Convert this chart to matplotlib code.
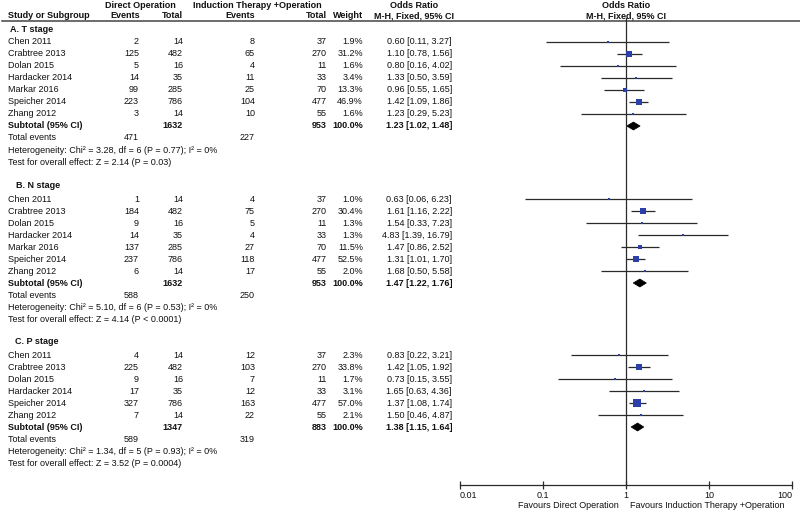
import numpy as np
import matplotlib
matplotlib.use("Agg")
import matplotlib.pyplot as plt
from matplotlib.patches import Polygon

# ---------------- data ----------------
studies_A = ["Chen 2011", "Crabtree 2013", "Dolan 2015", "Hardacker 2014", "Markar 2016", "Speicher 2014", "Zhang 2012"]
dir_ev_A = [2, 125, 5, 14, 99, 223, 3]
dir_tot_A = [14, 482, 16, 35, 285, 786, 14]
ind_ev_A = [8, 65, 4, 11, 25, 104, 10]
ind_tot_A = [37, 270, 11, 33, 70, 477, 55]
weight_A = [1.9, 31.2, 1.6, 3.4, 13.3, 46.9, 1.6]
or_A = [0.60, 1.10, 0.80, 1.33, 0.96, 1.42, 1.23]
lo_A = [0.11, 0.78, 0.16, 0.50, 0.55, 1.09, 0.29]
hi_A = [3.27, 1.56, 4.02, 3.59, 1.65, 1.86, 5.23]
sub_A = (1632, 953, 1.23, 1.02, 1.48)
tot_ev_A = (471, 227)
het_A = "Heterogeneity: Chi² = 3.28, df = 6 (P = 0.77); I² = 0%"
test_A = "Test for overall effect: Z = 2.14 (P = 0.03)"

studies_B = ["Chen 2011", "Crabtree 2013", "Dolan 2015", "Hardacker 2014", "Markar 2016", "Speicher 2014", "Zhang 2012"]
dir_ev_B = [1, 184, 9, 14, 137, 237, 6]
dir_tot_B = [14, 482, 16, 35, 285, 786, 14]
ind_ev_B = [4, 75, 5, 4, 27, 118, 17]
ind_tot_B = [37, 270, 11, 33, 70, 477, 55]
weight_B = [1.0, 30.4, 1.3, 1.3, 11.5, 52.5, 2.0]
or_B = [0.63, 1.61, 1.54, 4.83, 1.47, 1.31, 1.68]
lo_B = [0.06, 1.16, 0.33, 1.39, 0.86, 1.01, 0.50]
hi_B = [6.23, 2.22, 7.23, 16.79, 2.52, 1.70, 5.58]
sub_B = (1632, 953, 1.47, 1.22, 1.76)
tot_ev_B = (588, 250)
het_B = "Heterogeneity: Chi² = 5.10, df = 6 (P = 0.53); I² = 0%"
test_B = "Test for overall effect: Z = 4.14 (P < 0.0001)"

studies_C = ["Chen 2011", "Crabtree 2013", "Dolan 2015", "Hardacker 2014", "Speicher 2014", "Zhang 2012"]
dir_ev_C = [4, 225, 9, 17, 327, 7]
dir_tot_C = [14, 482, 16, 35, 786, 14]
ind_ev_C = [12, 103, 7, 12, 163, 22]
ind_tot_C = [37, 270, 11, 33, 477, 55]
weight_C = [2.3, 33.8, 1.7, 3.1, 57.0, 2.1]
or_C = [0.83, 1.42, 0.73, 1.65, 1.37, 1.50]
lo_C = [0.22, 1.05, 0.15, 0.63, 1.08, 0.46]
hi_C = [3.21, 1.92, 3.55, 4.36, 1.74, 4.87]
sub_C = (1347, 883, 1.38, 1.15, 1.64)
tot_ev_C = (589, 319)
het_C = "Heterogeneity: Chi² = 1.34, df = 5 (P = 0.93); I² = 0%"
test_C = "Test for overall effect: Z = 3.52 (P = 0.0004)"

section_labels = [("A.", "T stage"), ("B.", "N stage"), ("C.", "P stage")]
axis_ticks = [0.01, 0.1, 1, 10, 100]
axis_ticklabels = ["0.01", "0.1", "1", "10", "100"]

# ---------------- layout ----------------
W, H = 800, 511
FS = 6.5
FONT = ["Liberation Sans", "DejaVu Sans"]
TXT = "#111111"
BLUE = "#2b3fa8"
LINE = "#2a2a2a"
plt.rcParams["font.family"] = FONT

fig = plt.figure(figsize=(W / 100, H / 100), dpi=100)
ax = fig.add_axes([0, 0, 1, 1])
ax.set_xlim(0, W)
ax.set_ylim(H, 0)
ax.axis("off")

AX_Y = 485
TOP_Y = 18
X0, X1 = 460, 792
axf = fig.add_axes([X0 / W, (H - AX_Y) / H, (X1 - X0) / W, (AX_Y - TOP_Y) / H])
axf.set_xscale("log")
axf.set_xlim(0.01, 100)
axf.set_ylim(AX_Y, TOP_Y)
axf.patch.set_alpha(0)
for s in ["top", "left", "right"]:
    axf.spines[s].set_visible(False)
axf.spines["bottom"].set_color(LINE)
axf.spines["bottom"].set_linewidth(0.9)
axf.set_yticks([])
axf.set_xticks(axis_ticks)
axf.set_xticklabels(axis_ticklabels)
axf.xaxis.set_minor_locator(matplotlib.ticker.NullLocator())
axf.tick_params(axis="x", direction="inout", length=6, width=0.9, color=LINE,
                labelsize=FS, labelcolor=TXT, pad=1.5)
tl = axf.get_xticklabels()
tl[0].set_ha("left")
tl[-1].set_ha("right")
axf.axvline(1, color=LINE, lw=0.9)

def t(x, y, s, ha="left", bold=False, **kw):
    ax.text(x, y, s, ha=ha, va="center", fontsize=FS, color=TXT,
            fontweight="bold" if bold else "normal", **kw)

# header
t(140, 5, "Direct Operation", ha="center", bold=True)
t(257, 5, "Induction Therapy +Operation", ha="center", bold=True)
t(414, 5, "Odds Ratio", ha="center", bold=True)
t(626, 5, "Odds Ratio", ha="center", bold=True)
t(8, 16, "Study or Subgroup", bold=True)
t(140, 16, "Events", ha="right", bold=True)
t(183, 16, "Total", ha="right", bold=True)
t(255, 16, "Events", ha="right", bold=True)
t(327, 16, "Total", ha="right", bold=True)
t(363, 16, "Weight", ha="right", bold=True)
t(414, 16, "M-H, Fixed, 95% CI", ha="center", bold=True)
t(626, 16, "M-H, Fixed, 95% CI", ha="center", bold=True)
ax.plot([2, W], [21.5, 21.5], color="#444444", lw=1.1)

COLS = [139, 183, 255, 327, 363, 452]

sections = [
    (studies_A, dir_ev_A, dir_tot_A, ind_ev_A, ind_tot_A, weight_A, or_A, lo_A, hi_A, sub_A, tot_ev_A, het_A, test_A),
    (studies_B, dir_ev_B, dir_tot_B, ind_ev_B, ind_tot_B, weight_B, or_B, lo_B, hi_B, sub_B, tot_ev_B, het_B, test_B),
    (studies_C, dir_ev_C, dir_tot_C, ind_ev_C, ind_tot_C, weight_C, or_C, lo_C, hi_C, sub_C, tot_ev_C, het_C, test_C),
]
header_y = [29, 186, 342]
label_x = [10, 16, 15]
ROW = 12

for si, sec in enumerate(sections):
    (st, de, dt, ie, it, wt, orv, lo, hi, sub, tev, het, test) = sec
    hy = header_y[si]
    t(label_x[si], hy, section_labels[si][0] + " " + section_labels[si][1], bold=True)
    y = hy + 13
    for i in range(len(st)):
        t(8, y, st[i])
        t(COLS[0], y, str(de[i]), ha="right")
        t(COLS[1], y, str(dt[i]), ha="right")
        t(COLS[2], y, str(ie[i]), ha="right")
        t(COLS[3], y, str(it[i]), ha="right")
        t(COLS[4], y, f"{wt[i]:.1f}%", ha="right")
        t(COLS[5], y, f"{orv[i]:.2f} [{lo[i]:.2f}, {hi[i]:.2f}]", ha="right")
        axf.plot([lo[i], hi[i]], [y, y], color=LINE, lw=0.9, solid_capstyle="butt", clip_on=False)
        side_px = max(2.2, 0.95 * np.sqrt(wt[i]))
        axf.plot([orv[i]], [y], marker="s", ms=side_px * 0.72, color=BLUE, mec=BLUE, mew=0,
                 clip_on=False, zorder=3)
        y += ROW
    # subtotal
    t(8, y, "Subtotal (95% CI)", bold=True)
    t(COLS[1], y, str(sub[0]), ha="right", bold=True)
    t(COLS[3], y, str(sub[1]), ha="right", bold=True)
    t(COLS[4], y, "100.0%", ha="right", bold=True)
    t(COLS[5], y, f"{sub[2]:.2f} [{sub[3]:.2f}, {sub[4]:.2f}]", ha="right", bold=True)
    dia = Polygon([[sub[3], y], [sub[2], y - 4], [sub[4], y], [sub[2], y + 4]],
                  closed=True, facecolor="black", edgecolor="black", lw=0.5, clip_on=False)
    axf.add_patch(dia)
    y += ROW
    t(8, y, "Total events")
    t(COLS[0], y, str(tev[0]), ha="right")
    t(COLS[2], y, str(tev[1]), ha="right")
    y += 12.5
    t(8, y, het)
    y += 12
    t(8, y, test)

t(619, 506, "Favours Direct Operation", ha="right")
t(630, 506, "Favours Induction Therapy +Operation", ha="left")

fig.savefig("out.png", dpi=100, facecolor="white")
